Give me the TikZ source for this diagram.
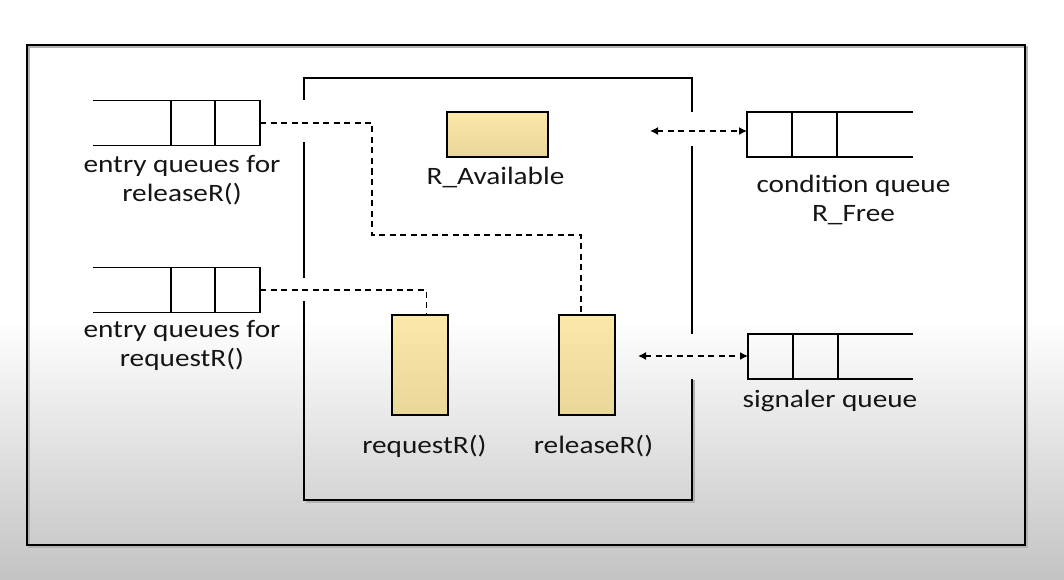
\documentclass[tikz,border=0pt]{standalone}
\usepackage{fontspec}
\setmainfont{Carlito}[FakeStretch=1.17]
\usetikzlibrary{arrows.meta}
\definecolor{bggray}{HTML}{C3C3C3}
\definecolor{slottop}{HTML}{FCE8A8}
\definecolor{slotbot}{HTML}{E9D699}
\definecolor{ink}{HTML}{151515}
\begin{document}
\begin{tikzpicture}[x=1pt,y=-1pt,
  wall/.style={line width=1.7pt, draw=black},
  qline/.style={line width=1.3pt, draw=black},
  queue/.style={minimum width=#1, minimum height=45pt, inner sep=0pt, outer sep=0pt},
  slot/.style={draw=black, line width=1.8pt, top color=slottop, bottom color=slotbot,
               inner sep=0pt, outer sep=0pt},
  lbl/.style={font=\fontsize{25}{29}\selectfont, text=ink, inner sep=0pt, align=center},
  link/.style={line width=1.4pt, dash pattern=on 6pt off 4.5pt},
  tip/.style={line width=1.4pt, dash pattern=on 6pt off 4.5pt,
              {Latex[length=8pt,width=8pt]}-{Latex[length=8pt,width=8pt]}}
]
\useasboundingbox (0,0) rectangle (1064,580);
% backdrop
\fill[white] (0,0) rectangle (1064,318);
\shade[top color=white, bottom color=bggray] (0,318) rectangle (1064,580);

% outer frame with a faint shadow
\draw[line width=1.5pt, draw=gray!60] (29,47) rectangle (1027,547);
\draw[wall] (27,45) rectangle (1025,545);

% monitor walls, open where the queues enter
\draw[line width=1.3pt, draw=gray!60] (306,502) -- (694,502) -- (694,380);
\draw[wall] (304,100) -- (304,78) -- (692,78) -- (692,112);
\draw[wall] (304,142) -- (304,278);
\draw[wall] (304,301) -- (304,500) -- (692,500) -- (692,379);
\draw[wall] (692,146) -- (692,334);

% procedure and variable slots
\node[slot, minimum width=101pt, minimum height=45pt] (avail) at (497.8,134.2) {};
\node[slot, minimum width=56pt, minimum height=100pt] (reqbox) at (420.3,365) {};
\node[slot, minimum width=56pt, minimum height=100pt] (relbox) at (587,365) {};

% queues
\node[queue=167pt] (eqrel) at (176.5,123) {};
\node[queue=167pt] (eqreq) at (176.5,290) {};
\node[queue=166pt] (cq) at (830,134.5) {};
\node[queue=165pt] (sq) at (830.5,356.5) {};

\foreach \q in {eqrel,eqreq}{
  \draw[qline] (\q.north west) -- (\q.north east) -- (\q.south east) -- (\q.south west);
  \draw[qline] ([xshift=-45pt]\q.north east) -- ([xshift=-45pt]\q.south east);
  \draw[qline] ([xshift=-89pt]\q.north east) -- ([xshift=-89pt]\q.south east);
}
\foreach \q in {cq,sq}{
  \draw[qline] (\q.north east) -- (\q.north west) -- (\q.south west) -- (\q.south east);
  \draw[qline] ([xshift=45pt]\q.north west) -- ([xshift=45pt]\q.south west);
  \draw[qline] ([xshift=90pt]\q.north west) -- ([xshift=90pt]\q.south west);
}

% labels (base of a two-line label is its last line)
\node[lbl, anchor=base] (lrel) at (182,201.7) {entry queues for\\releaseR()};
\node[lbl, anchor=base] (lreq) at (182,366) {entry queues for\\requestR()};
\node[lbl, anchor=base] (lavail) at (495.5,184) {R\_Available};
\node[lbl, anchor=base] (lcq) at (853.5,221.5) {condition queue\\R\_Free};
\node[lbl, anchor=base] (lsq) at (830,407) {signaler queue};
\node[lbl, anchor=base] (lreqp) at (424.4,453) {requestR()};
\node[lbl, anchor=base] (lrelp) at (593.5,453) {releaseR()};

% entry paths into the procedures
\coordinate (relbend) at (372,235);
\draw[link] (eqrel.east) -| (relbend) -| ([xshift=-6pt]relbox.north);
\draw[link] (eqreq.east) -| ([xshift=6pt]reqbox.north);

% condition and signaler traffic
\coordinate (cfree) at (650,131);
\coordinate (sfree) at (638,356);
\draw[tip] (cfree) -- (cfree -| cq.west);
\draw[tip] (sfree) -- (sfree -| sq.west);
\end{tikzpicture}
\end{document}
